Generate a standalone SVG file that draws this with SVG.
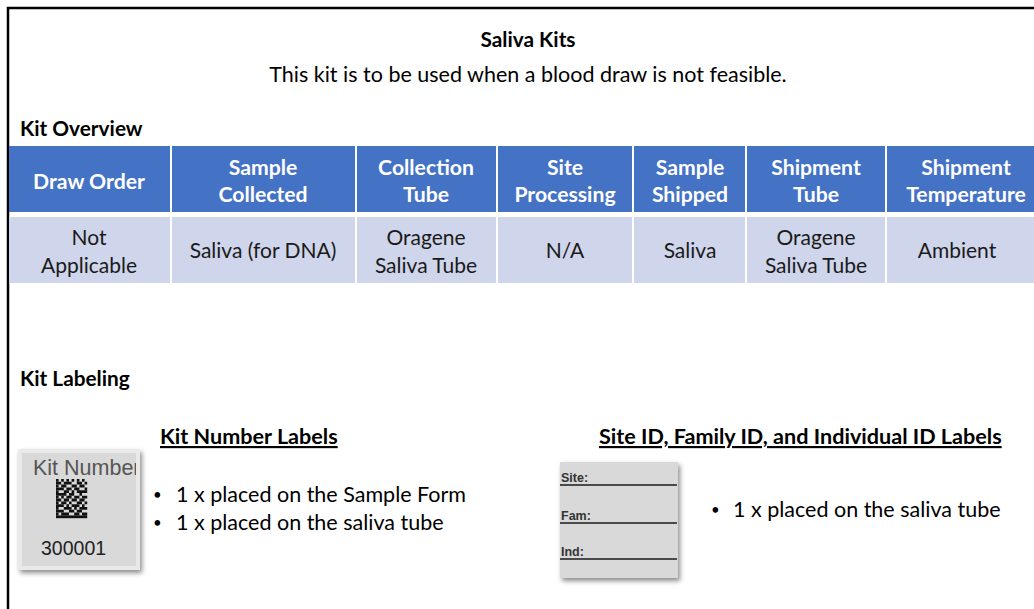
<svg xmlns="http://www.w3.org/2000/svg" width="1034" height="609" viewBox="0 0 1034 609">
<style>
text{font-family:Lato,"Open Sans","Liberation Sans",sans-serif;fill:#000}
.t{font-size:21.5px}
.b{font-weight:bold;font-size:20.8px}
.u{text-decoration:underline;font-size:21.6px}
.h{font-size:21.2px;font-weight:bold;fill:#fff;text-anchor:middle}
.d{font-size:21px;fill:#1a1a1a;text-anchor:middle}
.hc{fill:#4472C4}
.dc{fill:#CFD5EA}
.bl{font-size:15px}
.bc{stroke:#111;stroke-width:2.8}
.ln{stroke:#4a4a4a;stroke-width:2.2}
.sm{font-family:"Liberation Sans",Arial,sans-serif;font-size:12.5px;font-weight:bold;fill:#333}
</style>
<defs>
<filter id="sh" x="-20%" y="-20%" width="150%" height="150%">
<feDropShadow dx="2" dy="3" stdDeviation="2.5" flood-color="#000" flood-opacity="0.45"/>
</filter>
</defs>
<rect x="0" y="0" width="1034" height="609" fill="#fff"/>
<path d="M8 609 V8 H1034" fill="none" stroke="#000" stroke-width="2.5"/>

<g id="title">
<text x="528" y="47" text-anchor="middle" class="t b">Saliva Kits</text>
<text x="528" y="82" text-anchor="middle" class="t">This kit is to be used when a blood draw is not feasible.</text>
</g>
<text x="20" y="136" class="t b">Kit Overview</text>

<g id="table">
<rect class="hc" x="9" y="146" width="161" height="66"/>
<rect class="hc" x="172" y="146" width="183" height="66"/>
<rect class="hc" x="357" y="146" width="139" height="66"/>
<rect class="hc" x="498" y="146" width="134" height="66"/>
<rect class="hc" x="634" y="146" width="111" height="66"/>
<rect class="hc" x="747" y="146" width="138" height="66"/>
<rect class="hc" x="887" y="146" width="147" height="66"/>
<rect class="dc" x="9" y="217" width="161" height="66"/>
<rect class="dc" x="172" y="217" width="183" height="66"/>
<rect class="dc" x="357" y="217" width="139" height="66"/>
<rect class="dc" x="498" y="217" width="134" height="66"/>
<rect class="dc" x="634" y="217" width="111" height="66"/>
<rect class="dc" x="747" y="217" width="138" height="66"/>
<rect class="dc" x="887" y="217" width="147" height="66"/>
<text class="h" x="89" y="189">Draw Order</text>
<text class="h" x="263" y="175">Sample</text>
<text class="h" x="263" y="202">Collected</text>
<text class="h" x="426" y="175">Collection</text>
<text class="h" x="426" y="202">Tube</text>
<text class="h" x="565" y="175">Site</text>
<text class="h" x="565" y="202">Processing</text>
<text class="h" x="690" y="175">Sample</text>
<text class="h" x="690" y="202">Shipped</text>
<text class="h" x="816" y="175">Shipment</text>
<text class="h" x="816" y="202">Tube</text>
<text class="h" x="966" y="175">Shipment</text>
<text class="h" x="966" y="202">Temperature</text>
<text class="d" x="89" y="245">Not</text>
<text class="d" x="89" y="273">Applicable</text>
<text class="d" x="263" y="258">Saliva (for DNA)</text>
<text class="d" x="426" y="245">Oragene</text>
<text class="d" x="426" y="273">Saliva Tube</text>
<text class="d" x="565" y="258">N/A</text>
<text class="d" x="690" y="258">Saliva</text>
<text class="d" x="816" y="245">Oragene</text>
<text class="d" x="816" y="273">Saliva Tube</text>
<text class="d" x="957" y="258">Ambient</text>
</g>

<text x="20" y="386" class="t b">Kit Labeling</text>

<g id="kit-number-labels">
<text x="160" y="444" class="b u">Kit Number Labels</text>
<g filter="url(#sh)">
<rect x="18" y="449" width="122" height="121" fill="#e9e9e9"/>
</g>
<rect x="22" y="453" width="114" height="113" fill="#d9d9d9"/>
<svg x="22" y="453" width="114" height="113" overflow="hidden">
<text x="11" y="22" style="font-family:'Liberation Sans',Arial,sans-serif;font-size:21.5px;fill:#555">Kit Number</text>
</svg>
<g id="barcode">
<line class="bc" x1="56" y1="480.4" x2="87.2" y2="480.4" stroke-dasharray="2.6 2.6"/>
<line class="bc" x1="56" y1="483.2" x2="87.2" y2="483.2" stroke-dasharray="5.2 2.6 7.8 5.2 5.2 2.6 2.6 50"/>
<line class="bc" x1="56" y1="486" x2="87.2" y2="486" stroke-dasharray="2.6 2.6 5.2 5.2 5.2 2.6 5.2 50"/>
<line class="bc" x1="56" y1="488.8" x2="87.2" y2="488.8" stroke-dasharray="7.8 2.6 5.2 2.6 5.2 5.2 2.6 50"/>
<line class="bc" x1="56" y1="491.6" x2="87.2" y2="491.6" stroke-dasharray="2.6 5.2 5.2 2.6 2.6 2.6 10.4 50"/>
<line class="bc" x1="56" y1="494.4" x2="87.2" y2="494.4" stroke-dasharray="10.4 2.6 5.2 5.2 2.6 50"/>
<line class="bc" x1="56" y1="497.2" x2="87.2" y2="497.2" stroke-dasharray="2.6 2.6 2.6 2.6 5.2 2.6 5.2 2.6 5.2 50"/>
<line class="bc" x1="56" y1="500" x2="87.2" y2="500" stroke-dasharray="5.2 2.6 5.2 2.6 5.2 2.6 5.2 50"/>
<line class="bc" x1="56" y1="502.8" x2="87.2" y2="502.8" stroke-dasharray="2.6 2.6 5.2 2.6 2.6 5.2 5.2 2.6 2.6 50"/>
<line class="bc" x1="56" y1="505.6" x2="87.2" y2="505.6" stroke-dasharray="7.8 2.6 2.6 2.6 7.8 2.6 2.6 50"/>
<line class="bc" x1="56" y1="508.4" x2="87.2" y2="508.4" stroke-dasharray="2.6 5.2 7.8 2.6 2.6 2.6 7.8 50"/>
<line class="bc" x1="56" y1="511.2" x2="87.2" y2="511.2" stroke-dasharray="7.8 5.2 5.2 2.6 5.2 50"/>
<line class="bc" x1="56" y1="514" x2="87.2" y2="514" stroke-dasharray="2.6 2.6 7.8 5.2 5.2 2.6 5.2 50"/>
<line class="bc" x1="56" y1="516.8" x2="87.2" y2="516.8"/>
</g>
<text x="41" y="555" style="font-family:'Liberation Sans',Arial,sans-serif;font-size:19.5px;fill:#222">300001</text>
<text x="153" y="500" class="bl">•</text>
<text x="176" y="502" class="t">1 x placed on the Sample Form</text>
<text x="153" y="528" class="bl">•</text>
<text x="176" y="530" class="t">1 x placed on the saliva tube</text>
</g>

<g id="id-labels">
<text x="599" y="444" class="b u">Site ID, Family ID, and Individual ID Labels</text>
<g filter="url(#sh)">
<rect x="560" y="462" width="118" height="116" fill="#d9d9d9"/>
</g>
<line class="ln" x1="560" y1="485" x2="677" y2="485"/>
<line class="ln" x1="560" y1="523" x2="677" y2="523"/>
<line class="ln" x1="560" y1="559" x2="677" y2="559"/>
<text class="sm" x="561" y="482">Site:</text>
<text class="sm" x="561" y="520">Fam:</text>
<text class="sm" x="561" y="556">Ind:</text>
<text x="711" y="515" class="bl">•</text>
<text x="733" y="517" class="t">1 x  placed on the saliva tube</text>
</g>
</svg>
